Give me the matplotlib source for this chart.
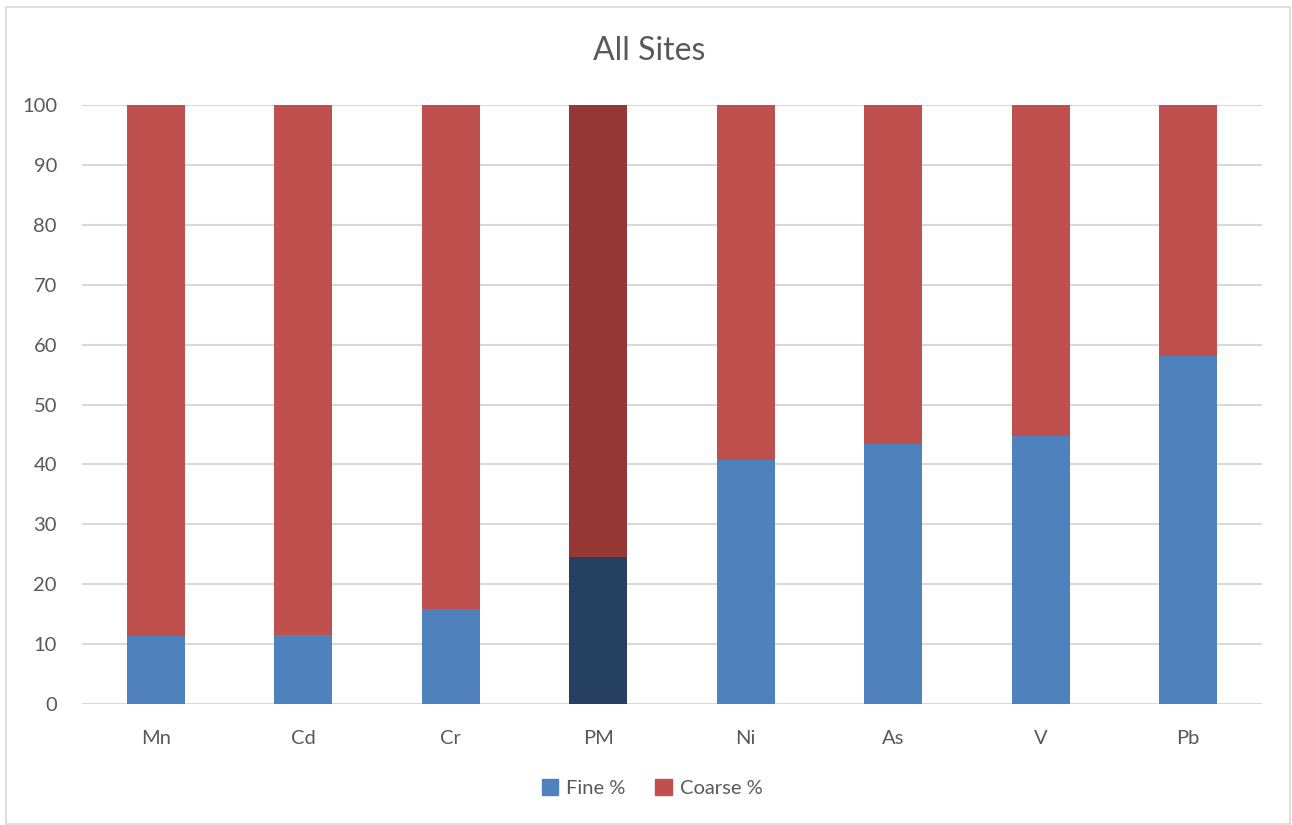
import matplotlib
matplotlib.use("Agg")
import matplotlib.pyplot as plt
from matplotlib.patches import Rectangle, Patch
import numpy as np

categories = ["Mn", "Cd", "Cr", "PM", "Ni", "As", "V", "Pb"]
fine = [11.4, 11.6, 15.9, 24.5, 40.8, 43.4, 44.8, 58.1]
coarse = [100 - f for f in fine]
yticks = list(range(0, 101, 10))

fine_col = "#4f81bd"
coarse_col = "#c0504d"
fine_pm = "#254061"
coarse_pm = "#953735"

plt.rcParams['font.family'] = ['Lato', 'DejaVu Sans']

fig = plt.figure(figsize=(12.92, 8.25), dpi=100)
fig.patches.append(Rectangle((6/1292, 1/825), 1284/1292, 817/825, transform=fig.transFigure,
                             fill=False, edgecolor="#d9d9d9", linewidth=1.2))
ax = fig.add_axes([82/1292, (825-704)/825, 1180/1292, 599/825])

x = np.arange(len(categories))
fc = [fine_pm if c == "PM" else fine_col for c in categories]
cc = [coarse_pm if c == "PM" else coarse_col for c in categories]
ax.bar(x, fine, width=0.39, color=fc, zorder=3)
ax.bar(x, coarse, bottom=fine, width=0.39, color=cc, zorder=3)

ax.set_xlim(-0.5, len(categories) - 0.5)
ax.set_ylim(0, 100)
ax.set_yticks(yticks)
ax.set_xticks(x)
ax.set_xticklabels(categories)
ax.tick_params(axis='both', length=0, labelsize=14.5, colors="#595959")
ax.tick_params(axis='y', pad=18)
ax.tick_params(axis='x', pad=19)
ax.grid(axis='y', color="#d9d9d9", linewidth=1.5, zorder=0)
for s in ax.spines.values():
    s.set_visible(False)

fig.text(649/1292, 1 - 51/825, "All Sites", ha="center", va="center", fontsize=23, color="#595959")

handles = [Patch(color=fine_col, label="Fine %"), Patch(color=coarse_col, label="Coarse %")]
fig.legend(handles=handles, loc="center", bbox_to_anchor=(652/1292, 1 - 788/825), ncol=2,
           frameon=False, fontsize=14.5, labelcolor="#595959", handlelength=0.8, handleheight=0.8,
           columnspacing=1.5, handletextpad=0.4)

fig.savefig("out.png", dpi=100, facecolor="white")
